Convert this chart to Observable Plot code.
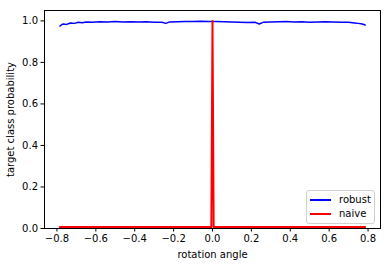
<!DOCTYPE html>
<html><head><meta charset="utf-8">
<script src="https://cdn.jsdelivr.net/npm/d3@7"></script>
<script src="https://cdn.jsdelivr.net/npm/@observablehq/plot@0.6"></script>
<style>
body{margin:0;background:#fff;}
#wrap{position:relative;width:389px;height:266px;font-family:"DejaVu Sans",sans-serif;}
#legend{position:absolute;left:306px;top:190px;width:67px;height:32px;border:1px solid #d0d0d0;border-radius:3px;background:rgba(255,255,255,0.8);font-size:10px;color:#000;}
.row{position:absolute;left:0;height:14px;line-height:14px;}
.sw{position:absolute;left:3px;top:6px;width:21px;height:2px;}
.lab{position:absolute;left:32px;top:0;white-space:nowrap;}
</style></head>
<body><div id="wrap"></div>
<script>
const robustAngles = [-0.785,-0.77,-0.75,-0.73,-0.71,-0.69,-0.67,-0.65,-0.62,-0.58,-0.54,-0.50,-0.46,-0.42,-0.38,-0.34,-0.30,-0.26,-0.24,-0.22,-0.18,-0.14,-0.10,-0.06,-0.02,0.02,0.06,0.10,0.14,0.18,0.22,0.24,0.26,0.30,0.34,0.38,0.42,0.46,0.50,0.54,0.58,0.62,0.66,0.70,0.73,0.75,0.77,0.785];
const robustValues = [0.975,0.985,0.983,0.99,0.988,0.993,0.991,0.995,0.994,0.996,0.995,0.997,0.995,0.996,0.995,0.996,0.994,0.993,0.988,0.995,0.996,0.997,0.997,0.998,0.997,0.997,0.996,0.995,0.994,0.992,0.993,0.985,0.993,0.995,0.996,0.997,0.995,0.996,0.994,0.995,0.996,0.995,0.994,0.993,0.99,0.988,0.985,0.98];
const naiveAngles = [-0.785,-0.4,-0.006,0,0.006,0.4,0.785];
const naiveValues = [0.007,0.007,0.007,1.0,0.007,0.007,0.007];
const xTicks = [-0.8,-0.6,-0.4,-0.2,0.0,0.2,0.4,0.6,0.8];
const yTicks = [0.0,0.2,0.4,0.6,0.8,1.0];
const seriesNames = ["robust","naive"];
const seriesColors = ["#0000ff","#ff0000"];

const robust = robustAngles.map((a,i)=>({a, v: robustValues[i]}));
const naive = naiveAngles.map((a,i)=>({a, v: naiveValues[i]}));
const fmt = d => (d < 0 ? "\u2212" : "") + Math.abs(d).toFixed(1);

const chart = Plot.plot({
  width: 389, height: 266,
  marginLeft: 44, marginRight: 9, marginTop: 10, marginBottom: 38,
  style: {fontFamily: "DejaVu Sans, sans-serif", fontSize: "10px", color: "#000", background: "#fff"},
  x: {domain: [-0.864, 0.864]},
  y: {domain: [0, 1.05]},
  marks: [
    Plot.line(robust, {x: "a", y: "v", stroke: seriesColors[0], strokeWidth: 1.5, strokeLinejoin: "round"}),
    Plot.line(naive, {x: "a", y: "v", stroke: seriesColors[1], strokeWidth: 2, strokeLinejoin: "round"}),
    Plot.frame({stroke: "#000", strokeWidth: 1}),
    Plot.axisX({ticks: xTicks, tickFormat: fmt, tickSize: 3.5, tickPadding: 2.5, fontSize: 10,
      label: "rotation angle", labelAnchor: "center", labelArrow: "none", labelOffset: 29}),
    Plot.axisY({ticks: yTicks, tickFormat: d => d.toFixed(1), tickSize: 3.5, tickPadding: 3, fontSize: 10,
      label: "target class probability", labelAnchor: "center", labelArrow: "none", labelOffset: 38})
  ]
});
const wrap = document.getElementById("wrap");
wrap.appendChild(chart);
const leg = document.createElement("div");
leg.id = "legend";
seriesNames.forEach((n,i)=>{
  const r = document.createElement("div");
  r.className = "row";
  r.style.top = (2 + i*14) + "px";
  r.innerHTML = `<div class="sw" style="background:${seriesColors[i]}"></div><div class="lab">${n}</div>`;
  leg.appendChild(r);
});
wrap.appendChild(leg);
</script></body></html>
